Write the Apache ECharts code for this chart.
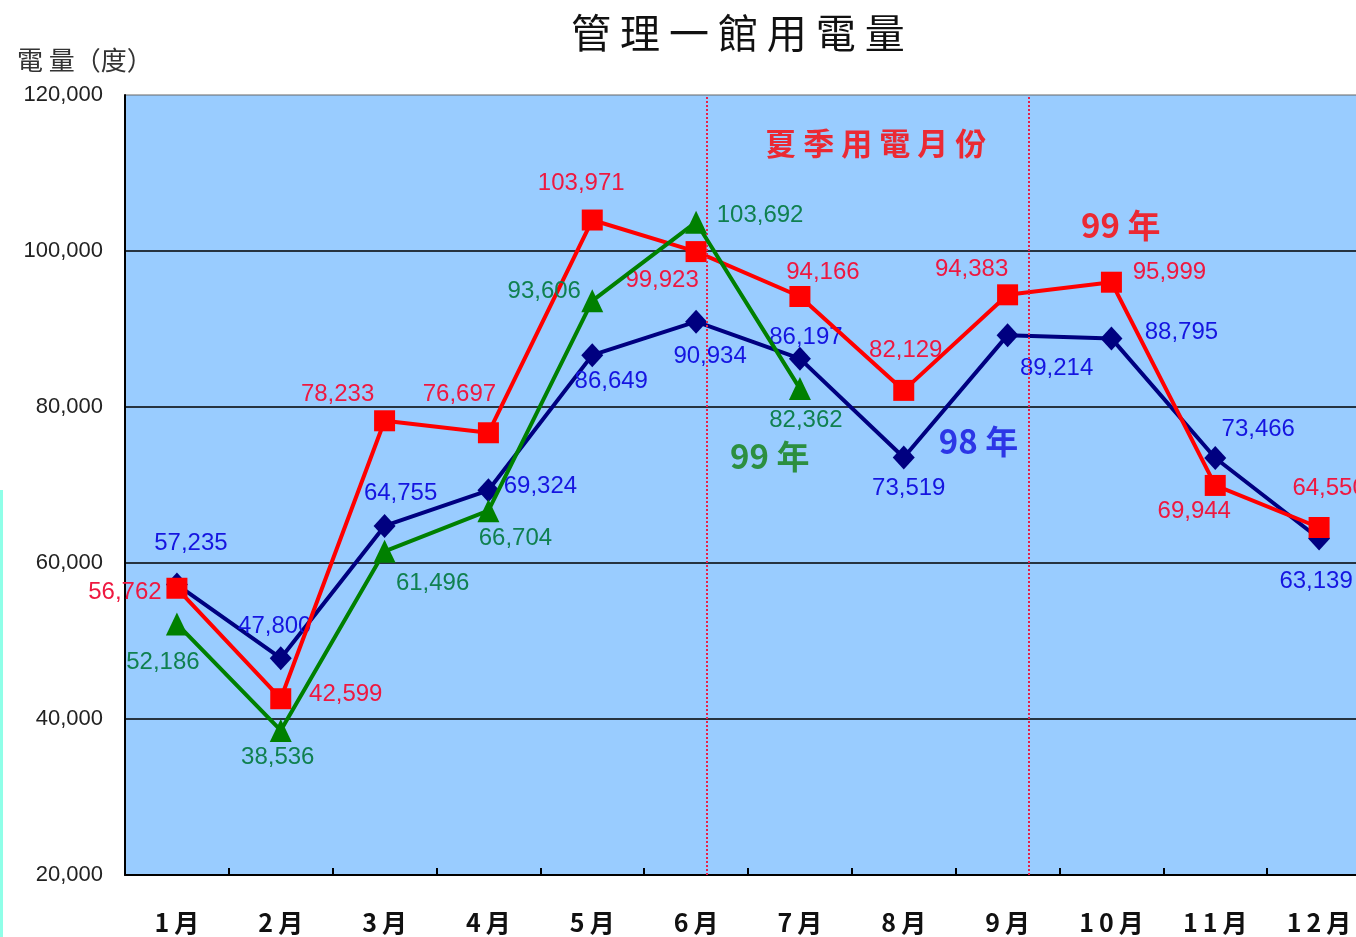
<!DOCTYPE html>
<html>
<head>
<meta charset="utf-8">
<script src="https://cdn.jsdelivr.net/npm/echarts@6/dist/echarts.min.js"></script>
<style>
html,body{margin:0;padding:0;background:#fff;}
#chart{width:1356px;height:937px;}
</style>
</head>
<body>
<div id="chart"></div>
<script>
// ---- data ----
const months = ['1月','2月','3月','4月','5月','6月','7月','8月','9月','10月','11月','12月'];
const y98 = [57235, 47800, 64755, 69324, 86649, 90934, 86197, 73519, 89214, 88795, 73466, 63139];
const y99 = [56762, 42599, 78233, 76697, 103971, 99923, 94166, 82129, 94383, 95999, 69944, 64550];
const y99g = [52186, 38536, 61496, 66704, 93606, 103692, 82362];
const summerBounds = [5.6, 8.7]; // positions on month scale (0..12)
const notes = [
  {text:'夏 季 用 電 月 份', x:7.23, y:113800, color:'#FF0000', size:31},
  {text:'99 年', x:9.59, y:103300, color:'#FF0000', size:33},
  {text:'98 年', x:8.22, y:75600, color:'#1010E0', size:33},
  {text:'99 年', x:6.21, y:73600, color:'#108010', size:33}
];

// ---- label placement (pixel offsets from point) ----
const off98 = [[14,-41],[-6,-32],[16,-33],[52,-4],[19,26],[14,35],[6,-21],[5,31],[49,33],[70,-6],[43,-29],[-3,43]];
const off99 = [[-52,4],[65,-4],[-47,-26],[-29,-38],[-11,-37],[-34,29],[23,-24],[2,-40],[-36,-25],[58,-10],[-21,26],[10,-39]];
const off99g = [[-14,38],[-3,27],[48,32],[27,28],[-48,-9],[64,-7],[6,32]];

const fmt = v => Number(v).toLocaleString('en-US');
const numFont = "'Liberation Sans Narrow', 'Liberation Sans', Arial, sans-serif";
const cjk = "'Noto Sans CJK TC', 'Noto Sans CJK SC', sans-serif";

function mkData(vals, offs) {
  return vals.map((v, i) => ({value: v, label: {offset: offs[i]}}));
}
function lblStyle(color) {
  return {show: true, position: 'inside', align: 'center', verticalAlign: 'middle',
    color: color, fontSize: 24, fontFamily: numFont, formatter: p => fmt(p.value)};
}

const chart = echarts.init(document.getElementById('chart'), null, {renderer: 'canvas'});
chart.setOption({
  animation: false,
  backgroundColor: '#ffffff',
  title: [
    {text: '管 理 一 館 用 電 量', left: 566, top: 8,
     textStyle: {fontFamily: cjk, fontSize: 40, fontWeight: 'normal', color: '#111'}},
    {text: '電 量（度）', left: 12, top: 42,
     textStyle: {fontFamily: cjk, fontSize: 26, fontWeight: 'normal', color: '#333'}}
  ],
  graphic: [
    {type: 'rect', left: 0, top: 490, shape: {width: 3, height: 447}, style: {fill: '#8FFFE8'}, silent: true}
  ],
  grid: {left: 125, top: 95, width: 1246, bottom: 62, outerBoundsMode: 'none', containLabel: false,
    show: true, backgroundColor: '#99CCFF', borderColor: '#666', borderWidth: 1},
  xAxis: [
    {type: 'category', data: months, boundaryGap: true,
     axisLine: {show: true, lineStyle: {color: '#000', width: 2}},
     axisTick: {show: true, inside: true, length: 7, interval: 0, lineStyle: {color: '#000', width: 2}},
     axisLabel: {interval: 0, margin: 35, fontSize: 25, fontWeight: 'bold', fontFamily: cjk, color: '#111',
       formatter: s => s.split('').join('\u2009')},
     splitLine: {show: false}},
    {type: 'value', min: 0, max: 12, show: false}
  ],
  yAxis: {type: 'value', min: 20000, max: 120000, interval: 20000,
    axisLine: {show: true, lineStyle: {color: '#000', width: 2}},
    axisTick: {show: false},
    axisLabel: {margin: 22, fontSize: 22, fontFamily: "'Liberation Sans', Arial, sans-serif", color: '#222',
      formatter: v => fmt(v)},
    splitLine: {show: true, showMaxLine: false, showMinLine: false, lineStyle: {color: '#000', width: 1.5}}},
  series: [
    {name: '98年', type: 'line', data: mkData(y98, off98),
     symbol: 'diamond', symbolSize: [22, 24], lineStyle: {color: '#000080', width: 4},
     itemStyle: {color: '#000080'}, label: lblStyle('#1515E0'), z: 3},
    {name: '99年', type: 'line', data: mkData(y99, off99),
     symbol: 'rect', symbolSize: 21, lineStyle: {color: '#FF0000', width: 4},
     itemStyle: {color: '#FF0000'}, label: lblStyle('#EE1840'), z: 4},
    {name: '99年(綠)', type: 'line', data: mkData(y99g, off99g),
     symbol: 'triangle', symbolSize: [22, 23], lineStyle: {color: '#008000', width: 4},
     itemStyle: {color: '#008000'}, label: lblStyle('#108050'), z: 5},
    {name: 'notes', type: 'scatter', xAxisIndex: 1, symbolSize: 1,
     itemStyle: {color: 'rgba(0,0,0,0)'}, silent: true, z: 6,
     data: notes.map(n => ({value: [n.x, n.y], name: n.text,
       label: {show: true, position: 'inside', formatter: '{b}', color: n.color, fontSize: n.size,
         fontWeight: 'bold', fontFamily: cjk}})),
     markLine: {silent: true, symbol: 'none', label: {show: false},
       lineStyle: {color: '#E8204A', type: 'dotted', width: 2},
       data: summerBounds.map(b => ({xAxis: b}))}}
  ]
});
</script>
</body>
</html>
